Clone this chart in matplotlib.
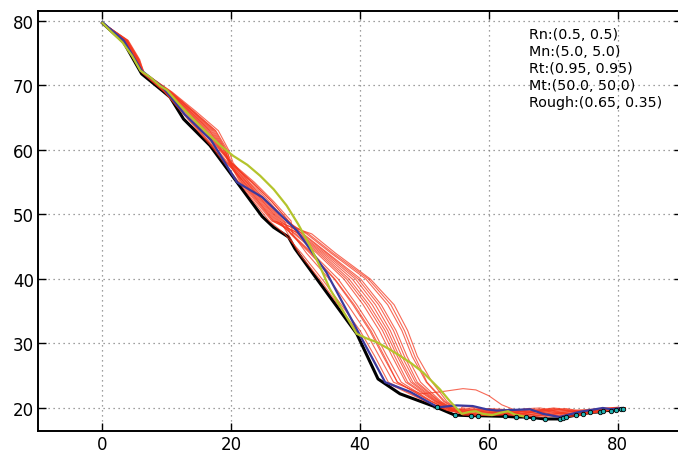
import matplotlib
matplotlib.use("Agg")
import matplotlib.pyplot as plt

# original path (black) with sampled points on the tail
path_x = [0, 3.3, 6.1, 9.3, 10.5, 12.6, 16.7, 19.8, 24.8, 26.6, 28.9, 29.9, 33.3, 39.5,
          42.8, 46.2, 51.9, 54.7, 57.3, 58.3, 62.5, 64.3, 65.8, 66.9, 68.7, 71.0, 71.5,
          72.0, 73.6, 74.6, 75.7, 77.2, 77.7, 79.0, 79.8, 80.6, 80.9]
path_y = [79.7, 76.7, 71.8, 69.2, 68.2, 64.8, 60.7, 56.5, 49.7, 48.0, 46.5, 44.7, 40.0, 31.5,
          24.5, 22.2, 20.1, 18.9, 18.8, 18.8, 18.7, 18.6, 18.6, 18.5, 18.3, 18.3, 18.4,
          18.6, 18.9, 19.1, 19.3, 19.4, 19.6, 19.6, 19.7, 19.8, 19.8]

# best trajectory (blue)
best_x = [0, 3.3, 6.1, 9.5, 12.8, 16.9, 20.9, 24.8, 30.2, 34.8, 39.5, 43.9, 47.8, 52.1,
          55.0, 57.5, 59.6, 61.2, 66.4, 68.4, 71.0, 74.1, 77.7, 79.0, 80.8]
best_y = [79.8, 77.0, 72.3, 69.6, 65.5, 61.5, 55.0, 52.7, 47.5, 41.0, 32.2, 24.0, 22.5, 20.1,
          20.4, 20.3, 19.8, 19.6, 19.8, 19.1, 18.6, 19.4, 20.0, 19.8, 20.0]

# spline (yellow-green)
spline_x = [0, 1.2, 3.1, 4.6, 5.9, 7.4, 9.0, 10.0, 12.1, 14.1, 16.2, 18.3, 20.3, 22.5, 24.5,
            26.6, 28.6, 30.4, 32.2, 33.8, 35.3, 37.5, 39.5, 41.0, 42.6, 44.4, 46.2, 48.0,
            49.8, 51.2, 52.4, 54.0, 55.8, 57.0, 58.0, 59.0, 60.5, 62.0, 63.0, 64.0, 65.8]
spline_y = [79.7, 78.5, 76.7, 74.6, 72.3, 71.3, 69.9, 69.3, 66.9, 64.8, 62.7, 60.7, 59.1, 57.7,
            56.0, 53.9, 51.4, 48.5, 45.2, 41.9, 38.5, 34.8, 31.5, 30.8, 30.2, 29.2, 28.1, 26.9,
            25.5, 24.1, 22.9, 21.0, 19.1, 19.4, 19.5, 19.1, 18.9, 19.3, 19.5, 19.0, 18.6]

# candidate trajectories (red): descent x at shared y levels, bend points, tail y at shared x
red_levels = [79.7, 77, 74, 72, 69, 66, 63, 60, 58, 55, 52, 49, 47, 44, 40, 36, 32, 28, 24]
red_desc_x = [
    [0, 3.9, 5.7, 6.5, 10.7, 14.2, 17.6, 19.4, 19.8, 21.7, 24.2, 26.6, 32.5, 36.2, 41.6, 45.3, 47.4, 48.9, 51.2],
    [0, 3.7, 5.5, 6.3, 10.3, 13.5, 16.6, 18.6, 20.0, 23.1, 25.9, 28.5, 31.7, 35.5, 40.9, 44.3, 46.5, 48.1, 50.3],
    [0, 3.5, 5.3, 6.2, 9.9, 12.7, 15.5, 17.9, 19.5, 22.3, 24.9, 27.4, 31.2, 35.0, 40.1, 43.3, 45.6, 47.3, 49.4],
    [0, 3.3, 5.1, 6.3, 10.5, 14.0, 17.3, 19.1, 19.7, 21.4, 23.8, 26.3, 30.7, 34.5, 39.3, 42.4, 44.7, 46.5, 48.6],
    [0, 3.8, 5.6, 6.3, 10.0, 12.9, 15.8, 18.2, 19.9, 23.3, 26.3, 28.9, 30.3, 33.9, 38.3, 41.4, 43.9, 45.8, 47.9],
    [0, 3.2, 5.0, 6.2, 10.4, 13.7, 16.9, 18.9, 19.9, 22.5, 25.2, 27.8, 29.8, 33.3, 37.5, 40.5, 43.0, 45.0, 47.1],
    [0, 3.6, 5.4, 6.2, 9.8, 12.4, 15.1, 17.7, 19.3, 22.0, 24.5, 27.0, 29.4, 32.6, 36.6, 39.5, 42.1, 44.2, 46.4],
    [0, 3.4, 5.2, 6.4, 10.8, 14.5, 18.0, 19.6, 20.3, 22.8, 25.6, 28.2, 29.2, 32.2, 36.0, 38.9, 41.5, 43.6, 45.8],
    [0, 4.0, 5.8, 6.4, 10.2, 13.2, 16.2, 18.4, 20.1, 23.6, 26.6, 29.3, 29.5, 31.7, 35.2, 38.1, 40.8, 43.0, 45.2],
    [0, 3.1, 4.9, 6.1, 9.6, 12.2, 14.8, 17.4, 18.9, 21.2, 23.5, 25.9, 28.3, 30.9, 34.1, 37.1, 40.0, 42.3, 44.4],
    [0, 3.7, 5.5, 6.4, 10.5, 13.9, 17.1, 19.0, 19.8, 21.9, 24.3, 26.8, 30.5, 34.2, 38.8, 41.9, 44.3, 46.1, 48.2],
    [0, 3.5, 5.3, 6.3, 10.2, 13.3, 16.4, 18.5, 19.8, 22.4, 25.0, 27.6, 28.8, 30.5, 33.7, 36.6, 39.5, 41.8, 43.9],
    [0, 3.75, 5.55, 6.4, 10.6, 14.1, 17.5, 19.2, 20.1, 22.7, 25.4, 28.0, 32.0, 35.8, 41.3, 44.8, 46.9, 48.5, 50.4],
    [0, 3.35, 5.15, 6.2, 10.1, 13.1, 16.0, 18.3, 20.0, 23.3, 26.3, 28.9, 31.0, 34.8, 39.7, 42.9, 45.2, 46.9, 48.9],
    [0, 3.55, 5.35, 6.3, 10.3, 13.6, 16.7, 18.8, 19.6, 21.6, 24.0, 26.5, 30.0, 33.6, 37.9, 41.0, 43.5, 45.4, 47.4],
    [0, 3.85, 5.65, 6.25, 9.7, 12.3, 15.0, 17.6, 19.3, 22.1, 24.7, 27.2, 29.3, 32.4, 36.1, 39.1, 41.7, 43.8, 45.8],
]
red_bend_x = [[53.5, 55.4], [53.0, 55.2], [52.6, 55.0], [52.3, 54.8], [51.9, 54.6], [51.6, 54.4],
              [51.2, 54.2], [51.0, 54.1], [49.5, 52.5], [50.4, 53.7], [52.1, 54.7], [50.2, 53.6],
              [53.2, 55.3], [52.4, 54.9], [51.8, 54.5], [51.1, 54.1]]
red_bend_y = [[21, 19.6], [21, 19.6], [21, 19.6], [21, 19.6], [21, 19.6], [21, 19.6],
              [21, 19.6], [21, 19.6], [22.2, 22.5], [21, 19.6], [21, 19.6], [21, 19.6],
              [21, 19.6], [21, 19.6], [21, 19.6], [21, 19.6]]
red_tail_x = [56, 58, 60, 62, 64, 66, 68, 70, 72, 74, 76, 78, 80, 81.2]
red_tail_y = [
    [20.3, 20.0, 19.7, 19.5, 19.6, 19.9, 20.0, 19.6, 19.2, 19.3, 19.7, 20.0, 20.1, 20.0],
    [19.2, 18.9, 19.0, 19.3, 19.5, 19.4, 19.0, 18.7, 18.8, 19.2, 19.6, 19.8, 19.9, 20.0],
    [19.6, 19.7, 19.5, 19.2, 19.0, 19.1, 19.5, 19.8, 19.6, 19.4, 19.5, 19.8, 20.0, 20.0],
    [18.9, 18.8, 18.9, 19.1, 19.0, 18.7, 18.6, 18.8, 19.1, 19.3, 19.4, 19.6, 19.8, 19.9],
    [19.8, 19.4, 19.1, 19.0, 19.3, 19.7, 19.8, 19.5, 19.1, 19.0, 19.3, 19.7, 20.0, 20.0],
    [19.4, 19.6, 19.8, 19.7, 19.4, 19.0, 18.8, 19.0, 19.4, 19.7, 19.8, 19.9, 20.0, 20.0],
    [19.0, 19.2, 19.3, 19.1, 18.8, 18.7, 18.9, 19.3, 19.5, 19.4, 19.3, 19.5, 19.8, 19.9],
    [19.5, 19.1, 18.9, 19.0, 19.2, 19.3, 19.1, 18.8, 18.6, 18.8, 19.2, 19.6, 19.9, 20.0],
    [23.0, 22.8, 21.9, 20.5, 19.7, 19.4, 19.5, 19.7, 19.6, 19.4, 19.6, 19.8, 20.0, 20.0],
    [19.1, 19.0, 19.2, 19.4, 19.3, 19.0, 18.9, 19.1, 19.3, 19.5, 19.7, 19.9, 20.0, 20.0],
    [19.7, 19.8, 19.6, 19.3, 19.1, 19.3, 19.7, 19.9, 19.7, 19.3, 19.2, 19.5, 19.9, 20.0],
    [19.3, 19.5, 19.4, 19.0, 18.9, 19.2, 19.6, 19.4, 19.0, 18.9, 19.3, 19.7, 19.9, 20.0],
    [20.0, 19.8, 19.9, 19.8, 19.5, 19.4, 19.7, 20.0, 19.8, 19.5, 19.4, 19.7, 20.0, 20.0],
    [19.0, 19.3, 19.6, 19.5, 19.2, 18.9, 19.2, 19.6, 19.9, 19.6, 19.4, 19.6, 19.9, 20.0],
    [19.4, 19.0, 18.8, 18.9, 19.3, 19.6, 19.4, 19.0, 18.8, 19.0, 19.5, 19.8, 20.0, 20.0],
    [19.7, 19.5, 19.3, 19.4, 19.7, 19.8, 19.5, 19.2, 19.1, 19.2, 19.5, 19.8, 20.1, 20.0],
]

params = ["Rn:(0.5, 0.5)", "Mn:(5.0, 5.0)", "Rt:(0.95, 0.95)", "Mt:(50.0, 50.0)",
          "Rough:(0.65, 0.35)"]

fig = plt.figure(figsize=(6.78, 4.56), dpi=100)
ax = fig.add_axes([38 / 678, 24 / 456, 644 / 678, 420 / 456])

# black path underneath
ax.plot(path_x, path_y, color="black", lw=2.2, zorder=2)

for i in range(len(red_desc_x)):
    xs = red_desc_x[i] + red_bend_x[i] + red_tail_x
    ys = red_levels + red_bend_y[i] + red_tail_y[i]
    ax.plot(xs, ys, color="#f5371e", lw=0.8, alpha=0.75, zorder=3)

ax.plot(best_x, best_y, color="#3a3a9e", lw=1.6, zorder=4)
ax.plot(spline_x, spline_y, color="#b4c42c", lw=1.6, zorder=5)

# sampled points along the tail of the path
ax.plot(path_x[16:], path_y[16:], ls="none", marker="o", ms=3.2,
        mfc="#20b0b0", mec="black", mew=0.6, zorder=6)

ax.set_xlim(-10, 90)
ax.set_ylim(16.43, 81.55)
ax.set_xticks([0, 20, 40, 60, 80])
ax.set_yticks([20, 30, 40, 50, 60, 70, 80])
ax.grid(True, color="0.5", ls=(0, (1, 3)), lw=0.9)
ax.tick_params(direction="in", top=True, right=True, length=6, width=1,
               labelsize=12, pad=3)
for s in ax.spines.values():
    s.set_linewidth(1.4)
# right edge of the frame falls just outside the picture
ax.spines["right"].set_visible(False)

text_y = [77.98, 75.35, 72.71, 70.08, 67.44]
for label, ty in zip(params, text_y):
    ax.text(66.3, ty, label, fontsize=10.3, va="center", ha="left", zorder=7)

fig.savefig("out.png", dpi=100)
